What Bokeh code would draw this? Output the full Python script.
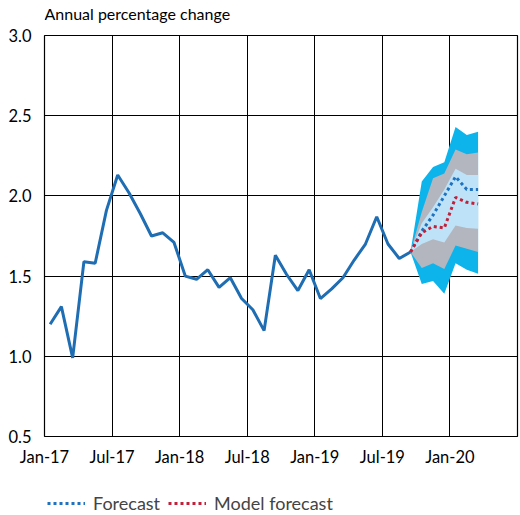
from bokeh.plotting import figure
from bokeh.models import FixedTicker, PrintfTickFormatter, Range1d, Legend, LegendItem, Label
from bokeh.layouts import column
from bokeh.embed import file_html
from bokeh.resources import INLINE

# Monthly inflation, annual percentage change, from Jan-17
tick_labels = ["Jan-17", "Jul-17", "Jan-18", "Jul-18", "Jan-19", "Jul-19", "Jan-20"]
history = [1.20, 1.31, 0.99, 1.59, 1.58, 1.91, 2.13, 2.02, 1.89, 1.75, 1.77, 1.71,
           1.50, 1.48, 1.54, 1.43, 1.49, 1.36, 1.29, 1.16, 1.63, 1.51, 1.41, 1.54,
           1.36, 1.42, 1.49, 1.60, 1.70, 1.87, 1.70, 1.61, 1.65]

# Forecast horizon: Sep-19 to Mar-20 (months 32..38 counted from Jan-17)
forecast_start = 32
forecast = [1.65, 1.78, 1.88, 2.00, 2.12, 2.04, 2.04]
model_forecast = [1.65, 1.77, 1.81, 1.80, 1.99, 1.96, 1.95]

# Uncertainty bands around the forecast
outer_hi = [1.65, 2.09, 2.18, 2.21, 2.43, 2.38, 2.40]
outer_lo = [1.65, 1.45, 1.47, 1.39, 1.58, 1.54, 1.515]
mid_hi = [1.65, 1.90, 2.11, 2.14, 2.29, 2.26, 2.27]
mid_lo = [1.65, 1.55, 1.58, 1.545, 1.69, 1.67, 1.65]
inner_hi = [1.65, 1.83, 1.93, 2.04, 2.17, 2.13, 2.13]
inner_lo = [1.65, 1.70, 1.73, 1.71, 1.815, 1.80, 1.795]

n_months = 42
FONT = "Lato"
BLUE_DOT = "#1F72C0"
RED_DOT = "#C0213A"

# each month is plotted at the centre of its slot
hist_x = [i + 0.5 for i in range(len(history))]
fc_x = [forecast_start + i + 0.5 for i in range(len(forecast))]


def strip(height):
    """A bare full-width strip used for the heading and the legend."""
    s = figure(width=520, height=height, output_backend="svg", toolbar_location=None,
               x_range=Range1d(0, 1), y_range=Range1d(0, 1),
               min_border_left=0, min_border_right=0, min_border_top=0, min_border_bottom=0)
    s.axis.visible = False
    s.grid.visible = False
    s.outline_line_color = None
    s.background_fill_color = "white"
    s.border_fill_color = "white"
    return s


# heading: units of the chart, hung from the top of its strip
hd = strip(24)
hd.add_layout(Label(x=0, y=1, y_offset=-3, text="Annual percentage change",
                    text_font=FONT, text_font_size="16px", text_color="black",
                    text_baseline="top", text_align="left"))

p = figure(width=520, height=466, output_backend="svg", toolbar_location=None,
           x_range=Range1d(0, n_months), y_range=Range1d(0.5, 3.0),
           min_border_left=44, min_border_right=3, min_border_top=11, min_border_bottom=54)
p.background_fill_color = "white"
p.border_fill_color = "white"
p.outline_line_color = "black"
p.outline_line_width = 1.2

# fan chart bands
p.varea(x=fc_x, y1=outer_lo, y2=outer_hi, fill_color="#0DB4EC")
p.varea(x=fc_x, y1=mid_lo, y2=mid_hi, fill_color="#B3B6BE")
p.varea(x=fc_x, y1=inner_lo, y2=inner_hi, fill_color="#BEE3F8")

p.line(hist_x, history, line_color="#1F6DB2", line_width=3)
p.line(fc_x, forecast, line_color=BLUE_DOT, line_width=3, line_dash="3 3")
p.line(fc_x, model_forecast, line_color=RED_DOT, line_width=3, line_dash="3 3")

# axes
p.xaxis.ticker = FixedTicker(ticks=[6 * i for i in range(len(tick_labels))])
p.xaxis.major_label_overrides = {6 * i: lab for i, lab in enumerate(tick_labels)}
p.yaxis.ticker = FixedTicker(ticks=[0.5, 1.0, 1.5, 2.0, 2.5, 3.0])
p.yaxis.formatter = PrintfTickFormatter(format="%.1f")
for ax in (p.xaxis, p.yaxis):
    ax.axis_line_color = None
    ax.major_tick_line_color = None
    ax.minor_tick_line_color = None
    ax.major_label_text_font = FONT
    ax.major_label_text_font_size = "16.5px"
    ax.major_label_text_color = "black"
p.xaxis.major_label_standoff = 4
p.yaxis.major_label_standoff = 7

p.xgrid.grid_line_color = "black"
p.ygrid.grid_line_color = "black"
p.xgrid.grid_line_width = 1
p.ygrid.grid_line_width = 1

# legend strip below the chart; its key lines reuse the forecast series,
# which fall outside this strip's ranges so only the legend keys show
lg = strip(25)
fc_key = lg.line(fc_x, forecast, line_color=BLUE_DOT, line_width=3, line_dash="3 3")
model_key = lg.line(fc_x, model_forecast, line_color=RED_DOT, line_width=3, line_dash="3 3")

legend = Legend(items=[LegendItem(label="Forecast", renderers=[fc_key]),
                       LegendItem(label="Model forecast", renderers=[model_key])],
                location=(3, 1), orientation="horizontal")
legend.background_fill_alpha = 0
legend.border_line_color = None
legend.padding = 0
legend.margin = 0
legend.spacing = 8
legend.glyph_width = 38
legend.glyph_height = 16
legend.label_standoff = 8
legend.label_text_font = FONT
legend.label_text_font_size = "18px"
lg.add_layout(legend, "center")

layout = column(hd, p, lg, spacing=0)
open("out.html", "w").write(file_html(layout, INLINE))
